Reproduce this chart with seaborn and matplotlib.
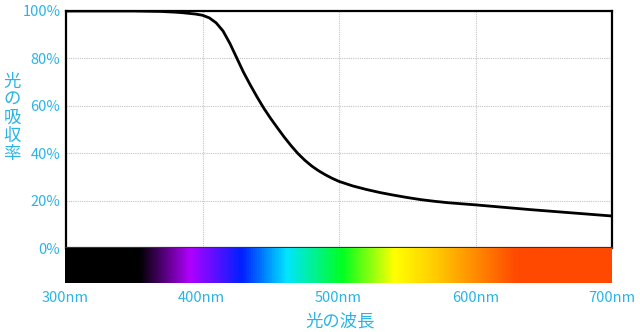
import numpy as np
import pandas as pd
import matplotlib
matplotlib.use("Agg")
import matplotlib.pyplot as plt
from matplotlib.colors import LinearSegmentedColormap
import seaborn as sns

# ---- data ----
wavelength = [300, 320, 340, 350, 360, 370, 380, 385, 390, 395, 400, 405, 410, 415, 420,
              425, 430, 435, 440, 445, 450, 455, 460, 465, 470, 475, 480, 485, 490,
              495, 500, 510, 520, 530, 540, 550, 560, 570, 580, 600, 620, 640, 660,
              680, 700]
absorbance = [100, 100, 100, 100, 99.9, 99.8, 99.5, 99.3, 99.0, 98.7, 98.2, 97.1, 95.0, 91.6,
              86.4, 80.3, 74.2, 68.8, 63.7, 58.9, 54.6, 50.6, 46.7, 43.1, 39.8, 37.0,
              34.6, 32.6, 30.9, 29.4, 28.1, 26.2, 24.7, 23.4, 22.3, 21.3, 20.4, 19.7,
              19.1, 18.2, 17.2, 16.2, 15.3, 14.4, 13.5]
x_ticks = [300, 400, 500, 600, 700]
x_tick_labels = ["300nm", "400nm", "500nm", "600nm", "700nm"]
y_ticks = [0, 20, 40, 60, 80, 100]
y_tick_labels = ["0%", "20%", "40%", "60%", "80%", "100%"]
spectrum_stops = [300, 354, 391, 429, 462, 503, 541, 569, 613, 631, 700]
spectrum_colors = ["#000000", "#000000", "#b000ff", "#0020ff", "#00e5ff", "#00ff20",
                   "#ffff00", "#ffd000", "#ff7000", "#ff4800", "#ff4800"]
x_label = "光の波長"
y_label = "光の吸収率"

# ---- style ----
sns.set_style("white")
plt.rcParams['font.family'] = ['Noto Sans CJK JP', 'DejaVu Sans']
text_color = "#2ab4e6"

W, H = 640, 332
fig = plt.figure(figsize=(W / 100, H / 100), dpi=100)

def rect(x0, y0, x1, y1):
    return [x0 / W, 1 - y1 / H, (x1 - x0) / W, (y1 - y0) / H]

ax = fig.add_axes(rect(66, 11, 612, 248))
bar_ax = fig.add_axes(rect(65, 248, 612, 283))

df = pd.DataFrame({"wavelength": wavelength, "absorbance": absorbance})
sns.lineplot(data=df, x="wavelength", y="absorbance", ax=ax, color="black",
             linewidth=2.0, zorder=3)
ax.set_xlim(300, 700)
ax.set_ylim(0, 100)
ax.set_xticks(x_ticks)
ax.set_xticklabels([])
ax.set_yticks(y_ticks)
ax.set_yticklabels(y_tick_labels, color=text_color, fontsize=10.5)
ax.tick_params(axis="both", length=0, pad=4)
ax.grid(True, color="#c4c4c4", linestyle=(0, (1, 1)), linewidth=0.8)
ax.set_xlabel("")
ax.set_ylabel("")
for s in ax.spines.values():
    s.set_color("black")
    s.set_linewidth(1.6)
ax.spines["bottom"].set_color("#333333")

# spectrum bar
stops = [(w - spectrum_stops[0]) / (spectrum_stops[-1] - spectrum_stops[0]) for w in spectrum_stops]
cmap = LinearSegmentedColormap.from_list("spec", list(zip(stops, spectrum_colors)))
grad = np.linspace(0, 1, 800).reshape(1, -1)
bar_ax.imshow(grad, aspect="auto", cmap=cmap, extent=[300, 700, 0, 1])
bar_ax.set_xlim(300, 700)
bar_ax.set_ylim(0, 1)
bar_ax.set_yticks([])
bar_ax.set_xticks(x_ticks)
bar_ax.set_xticklabels(x_tick_labels, color=text_color, fontsize=10.5)
bar_ax.tick_params(axis="x", length=0, pad=6)
for s in bar_ax.spines.values():
    s.set_visible(False)

fig.text(12 / W, 1 - 118 / H, "\n".join(y_label), color=text_color, fontsize=12.5,
         ha="center", va="center", linespacing=1.0)
fig.text(340 / W, 1 - 321 / H, x_label, color=text_color, fontsize=12.5,
         ha="center", va="center")

fig.savefig("out.png", dpi=100)
